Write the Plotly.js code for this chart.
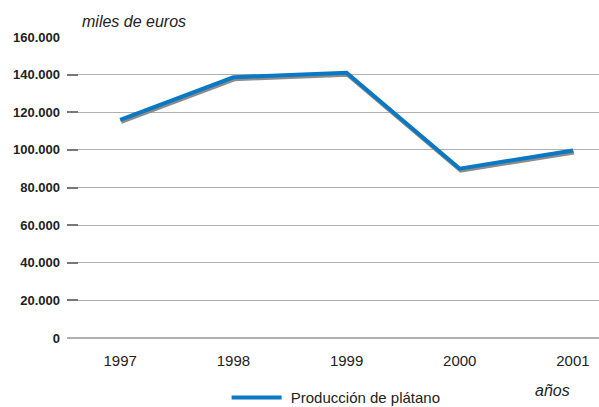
<!DOCTYPE html>
<html>
<head>
<meta charset="utf-8">
<script src="https://cdn.plot.ly/plotly-3.0.1.min.js"></script>
<style>
body{margin:0;padding:0;background:#fff;}
#chart{width:599px;height:407px;}
.scatterlayer .js-line{filter:drop-shadow(1px 2px 0px #8c8c8c);}
</style>
</head>
<body>
<div id="chart"></div>
<script>
const years = ["1997", "1998", "1999", "2000", "2001"];
const produccion = [115900, 138600, 141000, 90000, 99700];
const yTicks = [0, 20000, 40000, 60000, 80000, 100000, 120000, 140000, 160000];

const trace = {
  x: years,
  y: produccion,
  type: 'scatter',
  mode: 'lines',
  name: '\u00a0Producción de plátano',
  line: {color: '#0a78c2', width: 4}
};

const layout = {
  width: 599, height: 407,
  margin: {l: 67, r: 0, t: 37, b: 69},
  paper_bgcolor: '#fff', plot_bgcolor: '#fff',
  separators: ',.',
  font: {family: "'Liberation Sans', Arial, sans-serif", color: '#222'},
  showlegend: true,
  legend: {orientation: 'h', x: 0.3, xanchor: 'left', yref: 'container', y: 0.063, yanchor: 'top',
           font: {size: 15, color: '#222'}, itemwidth: 50},
  xaxis: {
    type: 'category', range: [-0.47, 4.23],
    showgrid: false, zeroline: false, showline: false,
    ticks: '', tickfont: {size: 15, color: '#222'},
    ticklabelstandoff: 12
  },
  yaxis: {
    range: [0, 160000], tickvals: yTicks, tickformat: ',d',
    showgrid: true, gridcolor: '#b0b0b0', gridwidth: 1.2,
    zeroline: true, zerolinecolor: '#b0b0b0', zerolinewidth: 1.2, showline: false,
    ticks: 'inside', ticklen: 11, tickcolor: '#777', tickwidth: 2,
    tickfont: {size: 13, color: '#222', weight: 'bold'},
    ticklabelstandoff: 6
  },
  annotations: [
    {text: '<i>miles de euros</i>', xref: 'paper', yref: 'paper', x: 0.024, y: 1.053,
     xanchor: 'left', yanchor: 'middle', showarrow: false, font: {size: 16, color: '#222'}},
    {text: '<i>años</i>', xref: 'paper', yref: 'paper', x: 0.949, y: -0.174,
     xanchor: 'right', yanchor: 'middle', showarrow: false, font: {size: 16, color: '#222'}}
  ]
};

Plotly.newPlot('chart', [trace], layout, {displayModeBar: false, staticPlot: true});
</script>
</body>
</html>
